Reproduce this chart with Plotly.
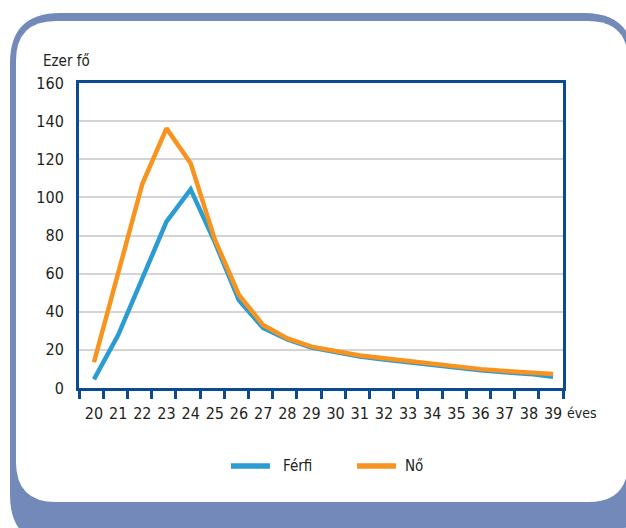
import plotly.graph_objects as go

# ---- data ----
ages = list(range(20, 40))
ferfi = [4.5, 27.8, 57.5, 87.3, 104.2, 76.5, 46.0, 31.5, 25.5, 21.2,
         18.8, 16.5, 15.0, 13.6, 12.0, 10.4, 9.3, 8.3, 7.4, 5.9]
no = [13.5, 60.0, 107.0, 136.2, 117.9, 78.0, 48.8, 33.0, 26.0, 21.7,
      19.4, 17.1, 15.6, 14.2, 12.4, 10.9, 9.9, 8.9, 8.3, 7.3]
series_names = ["Férfi", "Nő"]
y_ticks = [0, 20, 40, 60, 80, 100, 120, 140, 160]
x_ticklabels = [str(a) for a in ages]

BLUE = "#2B9CD2"
ORANGE = "#F7931E"
NAVY = "#0B4B92"
FRAME = "#7289BA"
TEXT = "#231F20"
FONT = "DejaVu Sans Condensed, Liberation Sans Narrow, sans-serif"

W, H = 626, 528
L, R, T, B = 79, 563, 83, 388  # plot area in pixels


def px(x):
    return (x - L) / (R - L)


def py(y):
    return (B - y) / (B - T)


def rrect(x0, y0, x1, y1, r):
    pts = [
        f"M {px(x0 + r)},{py(y0)}",
        f"L {px(x1 - r)},{py(y0)}",
        f"Q {px(x1)},{py(y0)} {px(x1)},{py(y0 + r)}",
        f"L {px(x1)},{py(y1 - r)}",
        f"Q {px(x1)},{py(y1)} {px(x1 - r)},{py(y1)}",
        f"L {px(x0 + r)},{py(y1)}",
        f"Q {px(x0)},{py(y1)} {px(x0)},{py(y1 - r)}",
        f"L {px(x0)},{py(y0 + r)}",
        f"Q {px(x0)},{py(y0)} {px(x0 + r)},{py(y0)}",
        "Z",
    ]
    return " ".join(pts)


fig = go.Figure()
fig.add_trace(go.Scatter(x=ages, y=ferfi, mode="lines", name=series_names[0],
                         line=dict(color=BLUE, width=4.5), showlegend=False))
fig.add_trace(go.Scatter(x=ages, y=no, mode="lines", name=series_names[1],
                         line=dict(color=ORANGE, width=4.5), showlegend=False))

x0r, x1r = 19.38, 39.41
step = (x1r - x0r) / 20
minor_vals = [x0r + k * step for k in range(21)]

shapes = [
    dict(type="path", xref="paper", yref="paper", path=rrect(10, 13, 634, 545, 50),
         fillcolor=FRAME, line=dict(width=0), layer="below"),
    dict(type="path", xref="paper", yref="paper", path=rrect(16, 21, 628, 502, 40),
         fillcolor="white", line=dict(width=0), layer="below"),
    # legend samples
    dict(type="line", xref="paper", yref="paper", x0=px(231), x1=px(270), y0=py(466), y1=py(466),
         line=dict(color=BLUE, width=5.5)),
    dict(type="line", xref="paper", yref="paper", x0=px(357), x1=px(396), y0=py(466), y1=py(466),
         line=dict(color=ORANGE, width=5.5)),
]

annotations = [
    dict(text="Ezer fő", xref="paper", yref="paper", x=px(41), y=py(61), xanchor="left",
         yanchor="middle", showarrow=False, font=dict(family=FONT, size=15, color=TEXT)),
    dict(text="éves", xref="paper", yref="paper", x=px(565), y=py(413), xanchor="left",
         yanchor="middle", showarrow=False, font=dict(family=FONT, size=14, color=TEXT)),
    dict(text=series_names[0], xref="paper", yref="paper", x=px(281), y=py(466), xanchor="left",
         yanchor="middle", showarrow=False, font=dict(family=FONT, size=15, color=TEXT)),
    dict(text=series_names[1], xref="paper", yref="paper", x=px(403), y=py(466), xanchor="left",
         yanchor="middle", showarrow=False, font=dict(family=FONT, size=15, color=TEXT)),
]

fig.update_layout(
    width=W, height=H,
    margin=dict(l=L, r=W - R, t=T, b=H - B, pad=0),
    paper_bgcolor="white",
    plot_bgcolor="rgba(0,0,0,0)",
    shapes=shapes,
    annotations=annotations,
    showlegend=False,
    hovermode=False,
    font=dict(family=FONT, size=16, color=TEXT),
    xaxis=dict(
        range=[x0r, x1r], tickmode="array", tickvals=ages, ticktext=x_ticklabels,
        ticks="", ticklabelstandoff=9, showgrid=False, zeroline=False,
        showline=True, linecolor=NAVY, linewidth=3, mirror=True,
        tickfont=dict(family=FONT, size=16, color=TEXT),
        minor=dict(tickmode="array", tickvals=minor_vals, ticks="outside", ticklen=8,
                   tickwidth=3, tickcolor=NAVY, showgrid=False),
    ),
    yaxis=dict(
        range=[0, 160], tickmode="array", tickvals=y_ticks,
        ticks="", ticklabelstandoff=9, showgrid=True, gridcolor="#D4D4D4", gridwidth=1.5,
        zeroline=False, showline=True, linecolor=NAVY, linewidth=3, mirror=True,
        tickfont=dict(family=FONT, size=16, color=TEXT),
    ),
)

fig.write_html("out.html", config={"displayModeBar": False},
               post_script="document.body.style.margin='0';document.body.style.overflow='hidden';")
